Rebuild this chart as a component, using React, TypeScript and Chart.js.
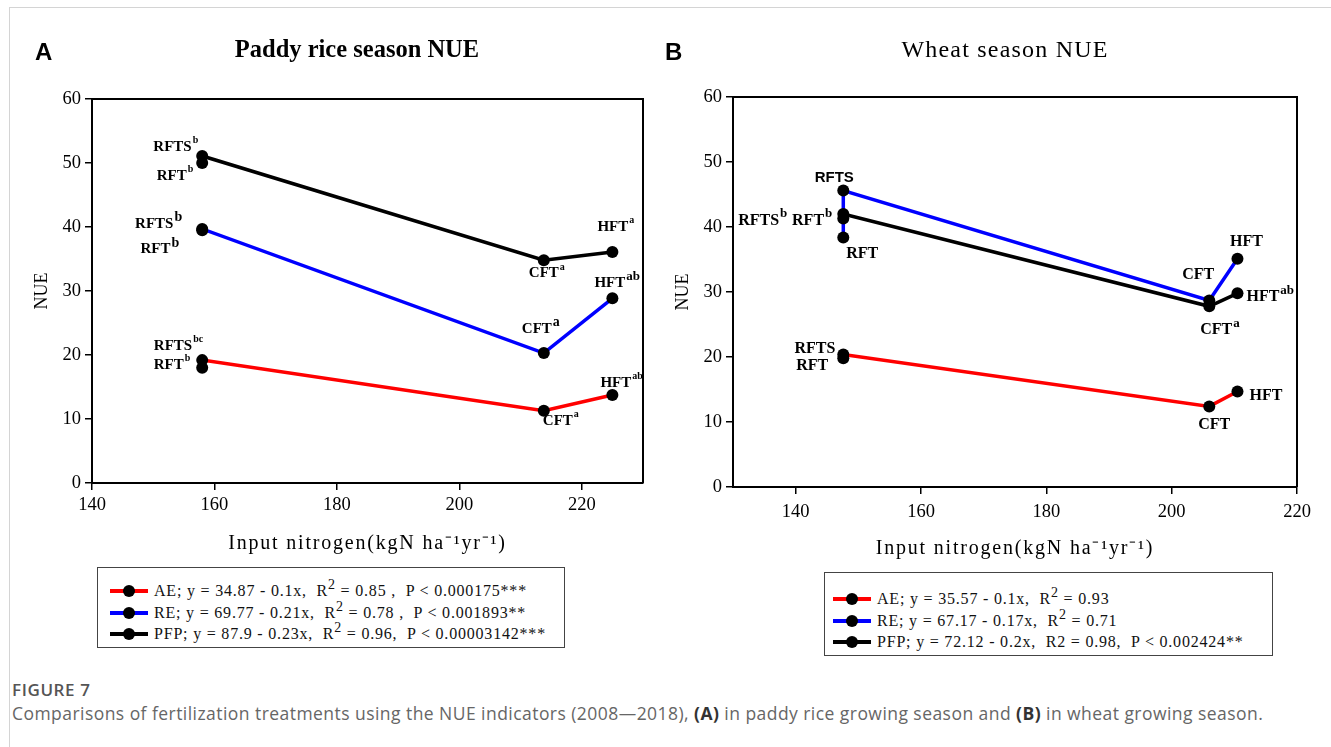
import React, { useEffect, useRef } from 'react';
import { Chart, registerables } from 'chart.js';

Chart.register(...registerables);

// ---------- data ----------
const treatments = ['RFT', 'RFTS', 'CFT', 'HFT'];
const seriesNames = ['AE', 'RE', 'PFP'];
const seriesColors = ['#ff0000', '#0000ff', '#000000'];

const riceNitrogen = [158.0, 158.0, 213.8, 225.0];
const riceAE = [18.0, 19.2, 11.3, 13.75];
const riceRE = [39.5, 39.7, 20.3, 28.85];
const ricePFP = [50.0, 51.1, 34.8, 36.1];

const wheatNitrogen = [147.6, 147.6, 206.0, 210.5];
const wheatAE = [19.8, 20.4, 12.4, 14.7];
const wheatRE = [38.4, 45.6, 28.7, 35.1];
const wheatPFP = [41.3, 42.0, 27.8, 29.8];

const riceXTicks = [140, 160, 180, 200, 220];
const wheatXTicks = [140, 160, 180, 200, 220];
const yTicks = [0, 10, 20, 30, 40, 50, 60];

const xAxisTitle = 'Input nitrogen(kgN ha⁻¹yr⁻¹)';

const riceLegend = [
  ['AE; y = 34.87 - 0.1x,  R', '2', ' = 0.85 ,  P < 0.000175***'],
  ['RE; y = 69.77 - 0.21x,  R', '2', ' = 0.78 ,  P < 0.001893**'],
  ['PFP; y = 87.9 - 0.23x,  R', '2', ' = 0.96,  P < 0.00003142***'],
];
const wheatLegend = [
  ['AE; y = 35.57 - 0.1x,  R', '2', ' = 0.93'],
  ['RE; y = 67.17 - 0.17x,  R', '2', ' = 0.71'],
  ['PFP; y = 72.12 - 0.2x,  R2 = 0.98,  P < 0.002424**', '', ''],
];

// point annotations: series index (0 AE,1 RE,2 PFP), treatment index, text, superscript
type Lbl = {
  ds: number; pt: number; text: string; sup: string;
  align: 'left' | 'right' | 'center'; dx: number; dy: number;
  size: number; supSize: number; sans?: boolean;
};

const riceLabels: Lbl[] = [
  { ds: 2, pt: 1, text: 'RFTS', sup: 'b', align: 'right', dx: -4, dy: -9, size: 15, supSize: 10 },
  { ds: 2, pt: 0, text: 'RFT', sup: 'b', align: 'right', dx: -9, dy: 13, size: 15, supSize: 10 },
  { ds: 1, pt: 1, text: 'RFTS', sup: 'b', align: 'right', dx: -20, dy: -5, size: 15, supSize: 14 },
  { ds: 1, pt: 0, text: 'RFT', sup: 'b', align: 'right', dx: -23, dy: 19, size: 15, supSize: 14 },
  { ds: 2, pt: 2, text: 'CFT', sup: 'a', align: 'left', dx: -15, dy: 13, size: 15, supSize: 10 },
  { ds: 2, pt: 3, text: 'HFT', sup: 'a', align: 'left', dx: -15, dy: -25, size: 15, supSize: 10 },
  { ds: 1, pt: 2, text: 'CFT', sup: 'a', align: 'left', dx: -22, dy: -24, size: 15, supSize: 14 },
  { ds: 1, pt: 3, text: 'HFT', sup: 'ab', align: 'left', dx: -18, dy: -15, size: 15, supSize: 13 },
  { ds: 0, pt: 1, text: 'RFTS', sup: 'bc', align: 'right', dx: 1, dy: -14, size: 15, supSize: 10 },
  { ds: 0, pt: 0, text: 'RFT', sup: 'b', align: 'right', dx: -12, dy: -3, size: 15, supSize: 10 },
  { ds: 0, pt: 2, text: 'CFT', sup: 'a', align: 'left', dx: -1, dy: 10, size: 15, supSize: 10 },
  { ds: 0, pt: 3, text: 'HFT', sup: 'ab', align: 'left', dx: -12, dy: -12, size: 15, supSize: 10 },
];

const wheatLabels: Lbl[] = [
  { ds: 1, pt: 1, text: 'RFTS', sup: '', align: 'center', dx: -9, dy: -13, size: 15, supSize: 10, sans: true },
  { ds: 2, pt: 0, text: 'RFTS', sup: 'b', align: 'right', dx: -56, dy: 2, size: 16, supSize: 13 },
  { ds: 2, pt: 0, text: 'RFT', sup: 'b', align: 'right', dx: -11, dy: 2, size: 16, supSize: 13 },
  { ds: 1, pt: 0, text: 'RFT', sup: '', align: 'left', dx: 3, dy: 16, size: 16, supSize: 10 },
  { ds: 1, pt: 3, text: 'HFT', sup: '', align: 'center', dx: 9, dy: -17, size: 16, supSize: 10 },
  { ds: 1, pt: 2, text: 'CFT', sup: '', align: 'right', dx: 5, dy: -26, size: 16, supSize: 10 },
  { ds: 2, pt: 3, text: 'HFT', sup: 'ab', align: 'left', dx: 9, dy: 4, size: 16, supSize: 13 },
  { ds: 2, pt: 2, text: 'CFT', sup: 'a', align: 'left', dx: -9, dy: 24, size: 16, supSize: 13 },
  { ds: 0, pt: 1, text: 'RFTS', sup: '', align: 'right', dx: -8, dy: -6, size: 16, supSize: 10 },
  { ds: 0, pt: 0, text: 'RFT', sup: '', align: 'left', dx: -47, dy: 8, size: 16, supSize: 10 },
  { ds: 0, pt: 3, text: 'HFT', sup: '', align: 'left', dx: 12, dy: 4, size: 16, supSize: 10 },
  { ds: 0, pt: 2, text: 'CFT', sup: '', align: 'left', dx: -11, dy: 18, size: 16, supSize: 10 },
];

const SERIF = '"Liberation Serif", "Times New Roman", serif';
const SANS = '"Liberation Sans", Arial, sans-serif';

Chart.defaults.font.family = SERIF;

const framePlugin = {
  id: 'frameBox',
  beforeDatasetsDraw(chart: any) {
    const { ctx, chartArea: a } = chart;
    ctx.save();
    ctx.strokeStyle = '#000';
    ctx.lineWidth = 2;
    ctx.beginPath();
    ctx.moveTo(a.left, a.top);
    ctx.lineTo(a.right, a.top);
    ctx.lineTo(a.right, a.bottom);
    ctx.stroke();
    ctx.restore();
  },
};

// x-axis title drawn with letter spacing (SimSun-like wide spacing)
const xTitlePlugin = {
  id: 'xTitle',
  afterDraw(chart: any, _args: any, opts: any) {
    const { ctx, chartArea: a } = chart;
    ctx.save();
    (ctx as any).letterSpacing = '1.8px';
    ctx.font = `20px ${SERIF}`;
    ctx.fillStyle = '#000';
    ctx.textAlign = 'center';
    ctx.textBaseline = 'middle';
    ctx.fillText(opts.text, (a.left + a.right) / 2, a.bottom + opts.offset);
    ctx.restore();
  },
};

const pointLabelPlugin = {
  id: 'pointLabels',
  afterDatasetsDraw(chart: any, _args: any, opts: any) {
    const labels: Lbl[] = opts.labels || [];
    const ctx = chart.ctx;
    const xs = chart.scales.x;
    const ys = chart.scales.y;
    ctx.save();
    ctx.fillStyle = '#000';
    ctx.textBaseline = 'middle';
    ctx.textAlign = 'left';
    for (const l of labels) {
      const d = chart.data.datasets[l.ds].data[l.pt];
      const px = xs.getPixelForValue(d.x) + l.dx;
      const py = ys.getPixelForValue(d.y) + l.dy;
      const mainFont = `bold ${l.size}px ${l.sans ? SANS : SERIF}`;
      const supFont = `bold ${l.supSize}px ${SERIF}`;
      ctx.font = mainFont;
      const w1 = ctx.measureText(l.text).width;
      let w2 = 0;
      if (l.sup) {
        ctx.font = supFont;
        w2 = ctx.measureText(l.sup).width + 1;
      }
      const total = w1 + w2;
      const sx = l.align === 'left' ? px : l.align === 'right' ? px - total : px - total / 2;
      ctx.font = mainFont;
      ctx.fillText(l.text, sx, py);
      if (l.sup) {
        ctx.font = supFont;
        ctx.fillText(l.sup, sx + w1 + 1, py - l.size * 0.42);
      }
    }
    ctx.restore();
  },
};

type ChartProps = {
  nitrogen: number[]; ae: number[]; re: number[]; pfp: number[];
  xMin: number; xMax: number; xTicks: number[]; labels: Lbl[];
  left: number; width: number; height: number;
  padTop: number; padRight: number; yWidth: number; xHeight: number;
  yTitlePad: number; xTitleOffset: number; xTickPad: number;
};

function NueChart(p: ChartProps) {
  const ref = useRef<HTMLCanvasElement>(null);
  useEffect(() => {
    if (!ref.current) return;
    const seriesVals = [p.ae, p.re, p.pfp];
    const chart = new Chart(ref.current, {
      type: 'line',
      data: {
        labels: treatments,
        datasets: seriesVals.map((vals, si) => ({
          label: seriesNames[si],
          data: p.nitrogen.map((x, i) => ({ x, y: vals[i] })),
          borderColor: seriesColors[si],
          backgroundColor: seriesColors[si],
          borderWidth: 3.5,
          pointRadius: 6,
          pointHoverRadius: 6,
          pointBackgroundColor: '#000',
          pointBorderColor: '#000',
          pointBorderWidth: 0,
          tension: 0,
          fill: false,
          order: 3 - si,
        })),
      },
      options: {
        responsive: false,
        animation: false,
        devicePixelRatio: 1,
        layout: { padding: { left: 0, top: p.padTop, right: p.padRight, bottom: 0 } },
        plugins: {
          legend: { display: false },
          tooltip: { enabled: false },
          pointLabels: { labels: p.labels },
          xTitle: { text: xAxisTitle, offset: p.xTitleOffset },
        } as any,
        scales: {
          x: {
            type: 'linear',
            min: p.xMin,
            max: p.xMax,
            afterBuildTicks: (s: any) => { s.ticks = p.xTicks.map((v) => ({ value: v })); },
            afterFit: (s: any) => { s.height = p.xHeight; },
            grid: { drawOnChartArea: false, drawTicks: true, tickLength: 7, color: '#000', lineWidth: 1.5 },
            border: { display: true, color: '#000', width: 2 },
            ticks: { color: '#000', font: { family: SERIF, size: 18.5 }, padding: p.xTickPad, maxRotation: 0, autoSkip: false },
            title: { display: false },
          },
          y: {
            type: 'linear',
            min: 0,
            max: 60,
            afterBuildTicks: (s: any) => { s.ticks = yTicks.map((v) => ({ value: v })); },
            afterFit: (s: any) => { s.width = p.yWidth; },
            grid: { drawOnChartArea: false, drawTicks: true, tickLength: 7, color: '#000', lineWidth: 1.5 },
            border: { display: true, color: '#000', width: 2 },
            ticks: { color: '#000', font: { family: SERIF, size: 18.5 }, padding: 4 },
            title: {
              display: true,
              text: 'NUE',
              color: '#000',
              font: { family: SERIF, size: 18 },
              padding: { top: p.yTitlePad, bottom: 0 },
            },
          },
        },
      } as any,
      plugins: [framePlugin, pointLabelPlugin, xTitlePlugin],
    });
    return () => chart.destroy();
  }, []);
  return (
    <canvas
      ref={ref}
      width={p.width}
      height={p.height}
      style={{ position: 'absolute', left: p.left, top: 0, width: p.width, height: p.height }}
    />
  );
}

function LegendBox({ rows, left, top, width, height, lineLeft, textLeft, rowTops }: any) {
  return (
    <div style={{ position: 'absolute', left, top, width, height, border: '1px solid #444', boxSizing: 'border-box', background: '#fff' }}>
      {rows.map((r: string[], i: number) => (
        <div key={i} style={{ position: 'absolute', left: 0, top: rowTops[i], height: 22, width: width - 4 }}>
          <div style={{ position: 'absolute', left: lineLeft, top: 9, width: 38, height: 4, background: seriesColors[i] }} />
          <div style={{ position: 'absolute', left: lineLeft + 13, top: 5, width: 12, height: 12, borderRadius: 6, background: '#000' }} />
          <div
            style={{
              position: 'absolute', left: textLeft, top: 0, whiteSpace: 'pre', fontFamily: SERIF,
              fontSize: 16, lineHeight: '22px', letterSpacing: '0.8px', color: '#111',
            }}
          >
            {r[0]}
            {r[1] ? <span style={{ position: 'relative', top: -7, fontSize: 14 }}>{r[1]}</span> : null}
            {r[2]}
          </div>
        </div>
      ))}
    </div>
  );
}

export default function App() {
  return (
    <div style={{ position: 'absolute', left: 0, top: 0, width: 1331, height: 747, background: '#fff', overflow: 'hidden' }}>
      <div style={{ position: 'absolute', left: 9, top: 7, right: 0, bottom: 0, borderLeft: '1px solid #d4d4d4', borderTop: '1px solid #d4d4d4' }} />
      <NueChart
        nitrogen={riceNitrogen} ae={riceAE} re={riceRE} pfp={ricePFP}
        xMin={140} xMax={230} xTicks={riceXTicks} labels={riceLabels}
        left={0} width={660} height={560} padTop={99} padRight={17} yWidth={92} xHeight={77}
        yTitlePad={31} xTitleOffset={61} xTickPad={4}
      />
      <NueChart
        nitrogen={wheatNitrogen} ae={wheatAE} re={wheatRE} pfp={wheatPFP}
        xMin={130} xMax={220} xTicks={wheatXTicks} labels={wheatLabels}
        left={660} width={671} height={570} padTop={97} padRight={34} yWidth={73} xHeight={83}
        yTitlePad={12} xTitleOffset={62} xTickPad={7}
      />
      <div style={{ position: 'absolute', left: 35, top: 37, fontFamily: SANS, fontWeight: 'bold', fontSize: 24, lineHeight: '30px', color: '#000' }}>A</div>
      <div style={{ position: 'absolute', left: 665, top: 37, fontFamily: SANS, fontWeight: 'bold', fontSize: 24, lineHeight: '30px', color: '#000' }}>B</div>
      <div style={{ position: 'absolute', left: 157, width: 400, top: 34, textAlign: 'center', fontFamily: SERIF, fontWeight: 'bold', fontSize: 24.5, lineHeight: '30px', color: '#000' }}>
        Paddy rice season NUE
      </div>
      <div style={{ position: 'absolute', left: 805, width: 400, top: 34, textAlign: 'center', fontFamily: SERIF, fontSize: 24, letterSpacing: '1.2px', lineHeight: '30px', color: '#000' }}>
        Wheat season NUE
      </div>
      <LegendBox rows={riceLegend} left={97} top={567} width={468} height={81} lineLeft={12} textLeft={56} rowTops={[12, 34, 55]} />
      <LegendBox rows={wheatLegend} left={824} top={572} width={449} height={84} lineLeft={8} textLeft={52} rowTops={[15, 37, 58]} />
      <div style={{ position: 'absolute', left: 12, top: 679, fontFamily: '"Open Sans", "Noto Sans", sans-serif', fontSize: 17, fontWeight: 600, color: '#555', letterSpacing: '0.6px', lineHeight: '22px' }}>
        FIGURE 7
      </div>
      <div style={{ position: 'absolute', left: 12, top: 702, fontFamily: '"Open Sans", "Noto Sans", sans-serif', fontSize: 17.5, letterSpacing: '0.45px', color: '#666', lineHeight: '22px', whiteSpace: 'nowrap' }}>
        Comparisons of fertilization treatments using the NUE indicators (2008—2018), <b style={{ color: '#333' }}>(A)</b> in paddy rice growing season and <b style={{ color: '#333' }}>(B)</b> in wheat growing season.
      </div>
    </div>
  );
}
